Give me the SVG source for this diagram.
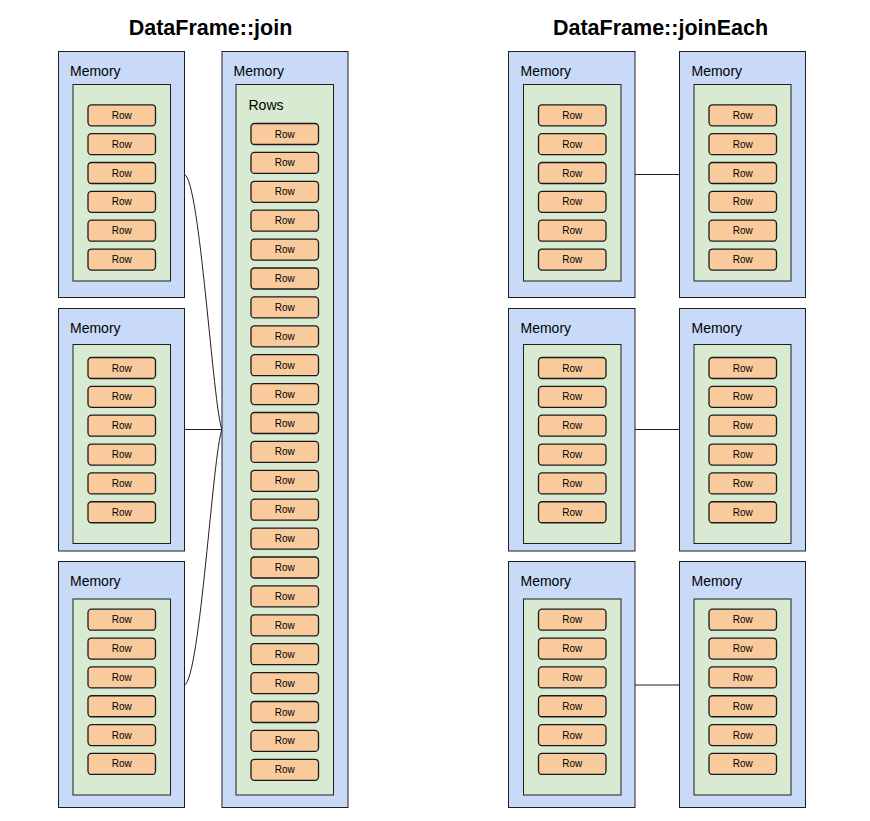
<svg xmlns="http://www.w3.org/2000/svg" width="870" height="821" viewBox="0 0 870 821">
<style>
.mem{fill:#c9daf8;stroke:#1f1f1f;stroke-width:1}
.grp{fill:#d9ead3;stroke:#1f1f1f;stroke-width:1}
.row{fill:#f9cb9c;stroke:#1a1a1a;stroke-width:1.3}
.rt{font-family:"Liberation Sans",Arial,sans-serif;font-size:10px;fill:#000;text-anchor:middle}
.ml{font-family:"Liberation Sans",Arial,sans-serif;font-size:14px;fill:#000}
.title{font-family:"Liberation Sans",Arial,sans-serif;font-size:21.5px;font-weight:bold;fill:#000;text-anchor:middle}
.con{fill:none;stroke:#1f1f1f;stroke-width:1}
</style>
<defs>
<g id="rowShape"><rect class="row" x="0" y="0" width="67.5" height="21" rx="3.5"/><text class="rt" x="33.75" y="14">Row</text></g>
</defs>
<rect width="870" height="821" fill="#ffffff"/>
<text class="title" x="210.5" y="35">DataFrame::join</text>
<text class="title" x="660.5" y="35">DataFrame::joinEach</text>

<g id="connectors">
<path class="con" d="M184.5,174.5 C200,180 213,408 222,429.5"/>
<path class="con" d="M184.5,429.5 L222,429.5"/>
<path class="con" d="M184.5,685 C200,679 213,451 222,429.5"/>
<path class="con" d="M635,174.5 L679.5,174.5"/>
<path class="con" d="M635,429.5 L679.5,429.5"/>
<path class="con" d="M635,685 L679.5,685"/>
</g>

<!-- join: left column -->
<g id="join-mem-1">
<rect class="mem" x="58.5" y="51.5" width="126" height="246"/>
<text class="ml" x="70" y="76">Memory</text>
<rect class="grp" x="73" y="84.5" width="97.5" height="196.5"/>
<use href="#rowShape" x="88" y="104.8"/><use href="#rowShape" x="88" y="133.65"/><use href="#rowShape" x="88" y="162.5"/><use href="#rowShape" x="88" y="191.35"/><use href="#rowShape" x="88" y="220.2"/><use href="#rowShape" x="88" y="249.05"/>
</g>
<g id="join-mem-2">
<rect class="mem" x="58.5" y="308.5" width="126" height="242.5"/>
<text class="ml" x="70" y="333">Memory</text>
<rect class="grp" x="73" y="344.5" width="97.5" height="199"/>
<use href="#rowShape" x="88" y="357.5"/><use href="#rowShape" x="88" y="386.35"/><use href="#rowShape" x="88" y="415.2"/><use href="#rowShape" x="88" y="444.05"/><use href="#rowShape" x="88" y="472.9"/><use href="#rowShape" x="88" y="501.75"/>
</g>
<g id="join-mem-3">
<rect class="mem" x="58.5" y="561.5" width="126" height="246"/>
<text class="ml" x="70" y="586">Memory</text>
<rect class="grp" x="73" y="599" width="97.5" height="196"/>
<use href="#rowShape" x="88" y="609.2"/><use href="#rowShape" x="88" y="638.05"/><use href="#rowShape" x="88" y="666.9"/><use href="#rowShape" x="88" y="695.75"/><use href="#rowShape" x="88" y="724.6"/><use href="#rowShape" x="88" y="753.45"/>
</g>

<!-- join: result -->
<g id="join-result">
<rect class="mem" x="222" y="51.5" width="126" height="756"/>
<text class="ml" x="233.5" y="76">Memory</text>
<rect class="grp" x="236" y="84.5" width="97.5" height="710.5"/>
<text class="ml" x="248.5" y="109.5">Rows</text>
<use href="#rowShape" x="251" y="123.5"/><use href="#rowShape" x="251" y="152.4"/><use href="#rowShape" x="251" y="181.3"/><use href="#rowShape" x="251" y="210.2"/><use href="#rowShape" x="251" y="239.1"/><use href="#rowShape" x="251" y="268"/><use href="#rowShape" x="251" y="296.9"/><use href="#rowShape" x="251" y="325.8"/><use href="#rowShape" x="251" y="354.7"/><use href="#rowShape" x="251" y="383.6"/><use href="#rowShape" x="251" y="412.5"/><use href="#rowShape" x="251" y="441.4"/><use href="#rowShape" x="251" y="470.3"/><use href="#rowShape" x="251" y="499.2"/><use href="#rowShape" x="251" y="528.1"/><use href="#rowShape" x="251" y="557"/><use href="#rowShape" x="251" y="585.9"/><use href="#rowShape" x="251" y="614.8"/><use href="#rowShape" x="251" y="643.7"/><use href="#rowShape" x="251" y="672.6"/><use href="#rowShape" x="251" y="701.5"/><use href="#rowShape" x="251" y="730.4"/><use href="#rowShape" x="251" y="759.3"/>
</g>

<!-- joinEach: left -->
<g id="each-a-1">
<rect class="mem" x="508.5" y="51.5" width="126.5" height="246"/>
<text class="ml" x="520.5" y="76">Memory</text>
<rect class="grp" x="523.5" y="84.5" width="97.5" height="196.5"/>
<use href="#rowShape" x="538.5" y="104.8"/><use href="#rowShape" x="538.5" y="133.65"/><use href="#rowShape" x="538.5" y="162.5"/><use href="#rowShape" x="538.5" y="191.35"/><use href="#rowShape" x="538.5" y="220.2"/><use href="#rowShape" x="538.5" y="249.05"/>
</g>
<g id="each-a-2">
<rect class="mem" x="508.5" y="308.5" width="126.5" height="242.5"/>
<text class="ml" x="520.5" y="333">Memory</text>
<rect class="grp" x="523.5" y="344.5" width="97.5" height="199"/>
<use href="#rowShape" x="538.5" y="357.5"/><use href="#rowShape" x="538.5" y="386.35"/><use href="#rowShape" x="538.5" y="415.2"/><use href="#rowShape" x="538.5" y="444.05"/><use href="#rowShape" x="538.5" y="472.9"/><use href="#rowShape" x="538.5" y="501.75"/>
</g>
<g id="each-a-3">
<rect class="mem" x="508.5" y="561.5" width="126.5" height="246"/>
<text class="ml" x="520.5" y="586">Memory</text>
<rect class="grp" x="523.5" y="599" width="97.5" height="196"/>
<use href="#rowShape" x="538.5" y="609.2"/><use href="#rowShape" x="538.5" y="638.05"/><use href="#rowShape" x="538.5" y="666.9"/><use href="#rowShape" x="538.5" y="695.75"/><use href="#rowShape" x="538.5" y="724.6"/><use href="#rowShape" x="538.5" y="753.45"/>
</g>

<!-- joinEach: right -->
<g id="each-b-1">
<rect class="mem" x="679.5" y="51.5" width="126" height="246"/>
<text class="ml" x="691.5" y="76">Memory</text>
<rect class="grp" x="694" y="84.5" width="97" height="196.5"/>
<use href="#rowShape" x="709" y="104.8"/><use href="#rowShape" x="709" y="133.65"/><use href="#rowShape" x="709" y="162.5"/><use href="#rowShape" x="709" y="191.35"/><use href="#rowShape" x="709" y="220.2"/><use href="#rowShape" x="709" y="249.05"/>
</g>
<g id="each-b-2">
<rect class="mem" x="679.5" y="308.5" width="126" height="242.5"/>
<text class="ml" x="691.5" y="333">Memory</text>
<rect class="grp" x="694" y="344.5" width="97" height="199"/>
<use href="#rowShape" x="709" y="357.5"/><use href="#rowShape" x="709" y="386.35"/><use href="#rowShape" x="709" y="415.2"/><use href="#rowShape" x="709" y="444.05"/><use href="#rowShape" x="709" y="472.9"/><use href="#rowShape" x="709" y="501.75"/>
</g>
<g id="each-b-3">
<rect class="mem" x="679.5" y="561.5" width="126" height="246"/>
<text class="ml" x="691.5" y="586">Memory</text>
<rect class="grp" x="694" y="599" width="97" height="196"/>
<use href="#rowShape" x="709" y="609.2"/><use href="#rowShape" x="709" y="638.05"/><use href="#rowShape" x="709" y="666.9"/><use href="#rowShape" x="709" y="695.75"/><use href="#rowShape" x="709" y="724.6"/><use href="#rowShape" x="709" y="753.45"/>
</g>
</svg>
